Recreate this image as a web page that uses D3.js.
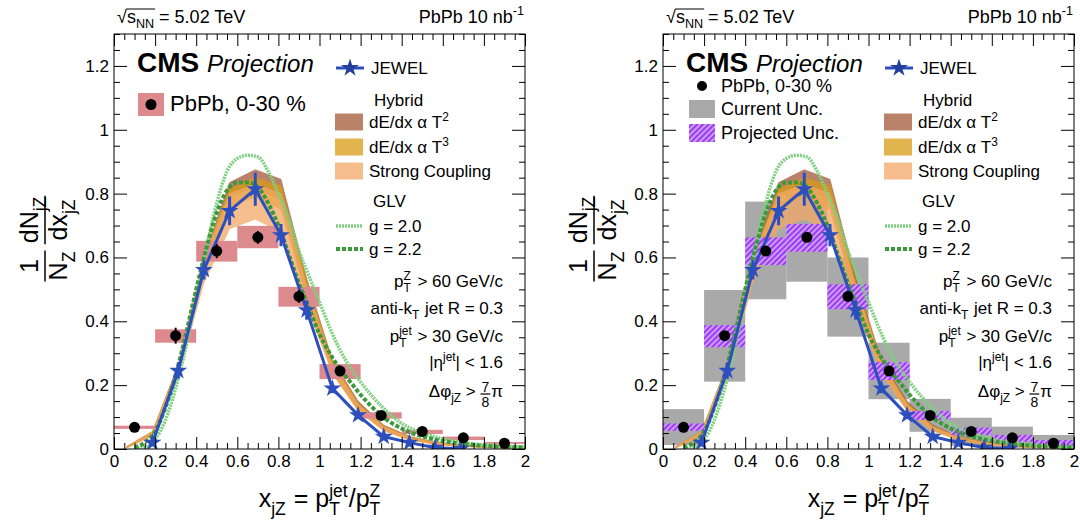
<!DOCTYPE html>
<html><head><meta charset="utf-8">
<script src="https://cdn.jsdelivr.net/npm/d3@7"></script>
<style>
body{margin:0;background:#fff}
svg{display:block;font-family:"Liberation Sans",Arial,Helvetica,sans-serif}
text{white-space:pre}
</style>
</head><body><svg id="c" width="1080" height="526"></svg>
<script>
// ---------------- data ----------------
const binEdges = [0,0.2,0.4,0.6,0.8,1.0,1.2,1.4,1.6,1.8,2.0];
const dataX = [0.1,0.3,0.5,0.7,0.9,1.1,1.3,1.5,1.7,1.9];
const dataY = [0.068,0.355,0.62,0.663,0.478,0.244,0.105,0.055,0.035,0.018];
const dataStat = [0.008,0.025,0.022,0.02,0.02,0.014,0.008,0.005,0.004,0.003];
const sysLo = [0.063,0.333,0.587,0.629,0.446,0.219,0.095,0.047,0.028,0.016];
const sysHi = [0.073,0.375,0.652,0.699,0.508,0.266,0.115,0.060,0.039,0.022];
const curLo = [0.0125,0.211,0.469,0.524,0.352,0.156,0.054,0.010,0.004,0.002];
const curHi = [0.125,0.498,0.775,0.801,0.600,0.333,0.157,0.098,0.070,0.044];
const projLo = [0.057,0.319,0.576,0.618,0.438,0.216,0.091,0.044,0.023,0.009];
const projHi = [0.080,0.388,0.663,0.705,0.516,0.272,0.119,0.067,0.044,0.028];

const jewelX = [0.1875,0.3125,0.4375,0.5625,0.6875,0.8125,0.9375,1.0625,1.1875,1.3125,1.4375,1.5625,1.6875];
const jewelY = [0.02,0.245,0.561,0.746,0.814,0.67,0.435,0.19,0.106,0.039,0.02,0.004,0.001];
const jewelErr = [0.005,0.025,0.03,0.045,0.052,0.035,0.03,0.015,0.012,0.008,0.006,0.003,0.002];

const bandX = [0.0625,0.1875,0.3125,0.4375,0.5625,0.6875,0.8125,0.9375,1.0625,1.1875,1.3125,1.4375,1.5625,1.6875,1.8125,1.9375];
const t2Lo = [0.004,0.045,0.24,0.56,0.79,0.82,0.78,0.48,0.245,0.125,0.06,0.03,0.016,0.009,0.005,0.003];
const t2Hi = [0.008,0.055,0.265,0.60,0.835,0.875,0.845,0.535,0.28,0.15,0.075,0.04,0.022,0.013,0.008,0.005];
const t3Lo = [0.004,0.045,0.24,0.55,0.76,0.79,0.75,0.47,0.24,0.12,0.058,0.029,0.015,0.008,0.005,0.003];
const t3Hi = [0.008,0.055,0.26,0.60,0.815,0.85,0.825,0.525,0.275,0.145,0.072,0.038,0.021,0.012,0.007,0.004];
const scLo = [0.003,0.04,0.23,0.52,0.69,0.72,0.68,0.45,0.235,0.12,0.056,0.028,0.014,0.008,0.004,0.002];
const scHi = [0.008,0.055,0.26,0.60,0.80,0.83,0.80,0.51,0.27,0.14,0.07,0.036,0.02,0.011,0.007,0.004];

const glvX = [0.1,0.15,0.2,0.25,0.3,0.35,0.4,0.45,0.5,0.55,0.6,0.65,0.7,0.75,0.8,0.85,0.9,0.95,1.0,1.05,1.1,1.15,1.2,1.25,1.3,1.35,1.4,1.45,1.5,1.6,1.7,1.8,1.9,2.0];
const glv22 = [0.005,0.02,0.055,0.13,0.23,0.36,0.5,0.63,0.74,0.81,0.835,0.835,0.82,0.77,0.7,0.61,0.52,0.44,0.36,0.3,0.25,0.21,0.17,0.135,0.105,0.082,0.064,0.05,0.04,0.025,0.016,0.01,0.007,0.005];
const glv20 = [0.0,0.005,0.03,0.09,0.19,0.32,0.47,0.63,0.77,0.87,0.91,0.92,0.915,0.87,0.8,0.72,0.62,0.54,0.46,0.38,0.31,0.255,0.21,0.17,0.135,0.105,0.08,0.063,0.05,0.032,0.02,0.013,0.009,0.006];

const xTicks = [0,0.2,0.4,0.6,0.8,1.0,1.2,1.4,1.6,1.8,2.0];
const yTicks = [0,0.2,0.4,0.6,0.8,1.0,1.2];
const xMinor = d3.range(0,2.0001,0.05).filter(v => Math.abs(v/0.2 - Math.round(v/0.2)) > 1e-6);
const yMinor = d3.range(0,1.3001,0.05).filter(v => Math.abs(v/0.2 - Math.round(v/0.2)) > 1e-6);

// ---------------- styles ----------------
const C = {
  pink:"#dc8a8e", grey:"#a9a9a9", jewel:"#2d4fbe",
  t2:"rgb(161,88,55)", t3:"rgb(215,155,21)", sc:"rgb(241,168,101)", bandOp:0.75,
  g20:"#7fd07f", g22:"#3a9a3a"
};

const svg = d3.select('#c');
svg.append('rect').attr('width',1080).attr('height',526).attr('fill','#fff');
const defs = svg.append('defs');
const pat = defs.append('pattern').attr('id','hatch').attr('patternUnits','userSpaceOnUse')
  .attr('width',4).attr('height',4).attr('patternTransform','rotate(45)');
pat.append('rect').attr('width',4).attr('height',4).attr('fill','#cda2f6');
pat.append('line').attr('x1',1).attr('x2',1).attr('y1',0).attr('y2',4).attr('stroke','#9d3cf0').attr('stroke-width',2.2);

// rich text helper
function rich(parent, x, y, segs, opt={}) {
  const fs = opt.fs || 17, anchor = opt.anchor || 'start';
  const g = parent.append('g');
  let cx = 0;
  const marks = {};
  segs.forEach(s => {
    if (typeof s === 'string') s = {t:s};
    if (s.frac) {
      const f = s.fs || fs*0.82;
      const a = g.append('text').attr('font-size',f).attr('y',-5).text(s.frac[0]);
      const b = g.append('text').attr('font-size',f).attr('y',10).text(s.frac[1]);
      const w = Math.max(a.node().getComputedTextLength(), b.node().getComputedTextLength());
      a.attr('x',cx+1+w/2).attr('text-anchor','middle');
      b.attr('x',cx+1+w/2).attr('text-anchor','middle');
      g.append('line').attr('x1',cx).attr('x2',cx+w+2).attr('y1',-3).attr('y2',-3).attr('stroke','#000').attr('stroke-width',1.2);
      cx += w+3;
    } else if (s.sub !== undefined || s.sup !== undefined) {
      let w = 0;
      if (s.sub !== undefined) {
        const t = g.append('text').attr('x',cx).attr('y',fs*0.3).attr('font-size',fs*0.7).text(s.sub);
        w = Math.max(w, t.node().getComputedTextLength());
      }
      if (s.sup !== undefined) {
        const t = g.append('text').attr('x',cx).attr('y',-fs*0.42).attr('font-size',fs*0.7).text(s.sup);
        w = Math.max(w, t.node().getComputedTextLength());
      }
      cx += w + (s.gap||0);
    } else {
      const t = g.append('text').attr('x',cx).attr('y',0).attr('font-size',s.fs||fs)
        .attr('font-style',s.italic?'italic':null).attr('font-weight',s.bold?'bold':null).text(s.t);
      if (s.mark) marks[s.mark+'0'] = cx;
      cx += t.node().getComputedTextLength();
      if (s.mark) marks[s.mark+'1'] = cx;
    }
    if (s.markEnd) marks[s.markEnd] = cx;
  });
  const shift = anchor==='end' ? -cx : anchor==='middle' ? -cx/2 : 0;
  g.attr('transform',`translate(${x+shift},${y})`);
  return {g, width:cx, marks};
}

function panel(ox, right) {
  const X0 = 114+ox, X1 = 525+ox, Y0 = 34, Y1 = 449;
  const x = d3.scaleLinear().domain([0,2]).range([X0,X1]);
  const y = d3.scaleLinear().domain([0,1.3]).range([Y1,Y0]);
  const id = 'clip'+(right?'R':'L');
  defs.append('clipPath').attr('id',id).append('rect').attr('x',X0).attr('y',Y0).attr('width',X1-X0).attr('height',Y1-Y0);
  const root = svg.append('g');
  const pg = root.append('g').attr('clip-path',`url(#${id})`);
  const bins = d3.range(dataX.length);

  if (right) {
    pg.append('g').selectAll('rect').data(bins).join('rect')
      .attr('x',i=>x(binEdges[i])).attr('width',i=>x(binEdges[i+1])-x(binEdges[i]))
      .attr('y',i=>y(curHi[i])).attr('height',i=>y(curLo[i])-y(curHi[i]))
      .attr('fill',C.grey);
  }
  // hybrid bands
  const bands = [[t2Lo,t2Hi,C.t2],[t3Lo,t3Hi,C.t3],[scLo,scHi,C.sc]];
  const area = d3.area().x(d=>x(d[0])).y0(d=>y(d[1])).y1(d=>y(d[2]));
  bands.forEach(([lo,hi,col]) => {
    pg.append('path').datum(bandX.map((v,i)=>[v,lo[i],hi[i]])).attr('d',area)
      .attr('fill',col).attr('fill-opacity',C.bandOp).attr('stroke',col).attr('stroke-opacity',0.6).attr('stroke-width',0.8);
  });
  if (right) {
    pg.append('g').selectAll('rect').data(bins).join('rect')
      .attr('x',i=>x(binEdges[i])).attr('width',i=>x(binEdges[i+1])-x(binEdges[i]))
      .attr('y',i=>y(projHi[i])).attr('height',i=>y(projLo[i])-y(projHi[i]))
      .attr('fill','url(#hatch)');
  } else {
    pg.append('g').selectAll('rect').data(bins).join('rect')
      .attr('x',i=>x(binEdges[i])).attr('width',i=>x(binEdges[i+1])-x(binEdges[i]))
      .attr('y',i=>y(sysHi[i])).attr('height',i=>y(sysLo[i])-y(sysHi[i]))
      .attr('fill',C.pink);
  }
  // GLV
  const line = d3.line().x(d=>x(d[0])).y(d=>y(d[1])).curve(d3.curveMonotoneX);
  pg.append('path').datum(glvX.map((v,i)=>[v,glv20[i]])).attr('d',line)
    .attr('fill','none').attr('stroke',C.g20).attr('stroke-width',3.5).attr('stroke-dasharray','2,1');
  pg.append('path').datum(glvX.map((v,i)=>[v,glv22[i]])).attr('d',line)
    .attr('fill','none').attr('stroke',C.g22).attr('stroke-width',4).attr('stroke-dasharray','4,2');
  // JEWEL
  const lin = d3.line().x(d=>x(d[0])).y(d=>y(d[1]));
  pg.append('path').datum(jewelX.map((v,i)=>[v,jewelY[i]])).attr('d',lin)
    .attr('fill','none').attr('stroke',C.jewel).attr('stroke-width',3);
  pg.append('g').selectAll('line').data(jewelX.map((v,i)=>i)).join('line')
    .attr('x1',i=>x(jewelX[i])).attr('x2',i=>x(jewelX[i]))
    .attr('y1',i=>y(jewelY[i]-jewelErr[i])).attr('y2',i=>y(jewelY[i]+jewelErr[i]))
    .attr('stroke',C.jewel).attr('stroke-width',3);
  const star = d3.symbol(d3.symbolStar, 100);
  pg.append('g').selectAll('path').data(jewelX.map((v,i)=>i)).join('path')
    .attr('d',star).attr('transform',i=>`translate(${x(jewelX[i])},${y(jewelY[i])})`)
    .attr('fill',C.jewel);
  // data
  if (!right) {
    pg.append('g').selectAll('line').data(bins).join('line')
      .attr('x1',i=>x(dataX[i])).attr('x2',i=>x(dataX[i]))
      .attr('y1',i=>y(dataY[i]-dataStat[i])).attr('y2',i=>y(dataY[i]+dataStat[i]))
      .attr('stroke','#000').attr('stroke-width',2);
  }
  pg.append('g').selectAll('circle').data(bins).join('circle')
    .attr('cx',i=>x(dataX[i])).attr('cy',i=>y(dataY[i])).attr('r',5.5).attr('fill','#000');

  // axes
  const fmt = d => String(Math.round(d*10)/10);
  const ax = root.append('g');
  const addAxis = (gen, tr) => {
    const a = ax.append('g').attr('transform',tr).call(gen);
    a.select('.domain').remove();
    a.selectAll('line').attr('stroke','#000').attr('stroke-width',1);
    a.selectAll('text').attr('font-size',17).attr('fill','#000').attr('font-family',null);
    a.attr('font-family',null);
    return a;
  };
  addAxis(d3.axisBottom(x).tickValues(xTicks).tickSize(-12).tickPadding(6).tickFormat(fmt), `translate(0,${Y1})`);
  addAxis(d3.axisBottom(x).tickValues(xMinor).tickSize(-6).tickFormat(''), `translate(0,${Y1})`);
  addAxis(d3.axisTop(x).tickValues(xTicks).tickSize(-12).tickFormat(''), `translate(0,${Y0})`);
  addAxis(d3.axisTop(x).tickValues(xMinor).tickSize(-6).tickFormat(''), `translate(0,${Y0})`);
  addAxis(d3.axisLeft(y).tickValues(yTicks).tickSize(-13).tickPadding(5).tickFormat(fmt), `translate(${X0},0)`);
  addAxis(d3.axisLeft(y).tickValues(yMinor).tickSize(-6).tickFormat(''), `translate(${X0},0)`);
  addAxis(d3.axisRight(y).tickValues(yTicks).tickSize(-13).tickFormat(''), `translate(${X1},0)`);
  addAxis(d3.axisRight(y).tickValues(yMinor).tickSize(-6).tickFormat(''), `translate(${X1},0)`);
  root.append('rect').attr('x',X0).attr('y',Y0).attr('width',X1-X0).attr('height',Y1-Y0)
    .attr('fill','none').attr('stroke','#000').attr('stroke-width',1);

  const t = root.append('g');
  // header
  const h = rich(t, X0+3, 23, [{t:'√'},{t:'s',mark:'s'},{sub:'NN',markEnd:'nn'},{t:' = 5.02 TeV'}], {fs:18});
  h.g.append('line').attr('x1',h.marks.s0-0.5).attr('x2',h.marks.nn+1).attr('y1',-14).attr('y2',-14).attr('stroke','#000').attr('stroke-width',1);
  rich(t, X1-1, 23, [{t:'PbPb 10 nb'},{sup:'-1'}], {fs:18, anchor:'end'});
  // CMS Projection
  rich(t, X0+23, 72, [{t:'CMS',bold:true,fs:28}]);
  rich(t, X0+93, 72, [{t:'Projection',italic:true,fs:24}]);
  // JEWEL legend
  const L = X0+222;
  t.append('line').attr('x1',L).attr('x2',L+28).attr('y1',68).attr('y2',68).attr('stroke',C.jewel).attr('stroke-width',3);
  t.append('path').attr('d',d3.symbol(d3.symbolStar,100)).attr('transform',`translate(${L+14},68)`).attr('fill','#23409f');
  rich(t, L+35, 74, ['JEWEL']);
  rich(t, L+38, 106, ['Hybrid']);
  const sw = [[t2Hi,C.t2,122,[{t:'dE/dx α T'},{sup:'2'}]],[t3Hi,C.t3,147,[{t:'dE/dx α T'},{sup:'3'}]],[scHi,C.sc,171,['Strong Coupling']]];
  sw.forEach(([arr,col,cy,txt]) => {
    t.append('rect').attr('x',L-1).attr('width',28).attr('y',cy-8.5).attr('height',17).attr('fill',col).attr('fill-opacity',C.bandOp);
    rich(t, L+33, cy+6, txt);
  });
  rich(t, L+37, 207, ['GLV']);
  t.append('line').attr('x1',L).attr('x2',L+27).attr('y1',226).attr('y2',226).attr('stroke',C.g20).attr('stroke-width',3.5).attr('stroke-dasharray','2,1');
  rich(t, L+33, 232, ['g = 2.0']);
  t.append('line').attr('x1',L).attr('x2',L+27).attr('y1',249).attr('y2',249).attr('stroke',C.g22).attr('stroke-width',4).attr('stroke-dasharray','4,2');
  rich(t, L+33, 255, ['g = 2.2']);
  // cuts
  const R = X1-22;
  rich(t, R, 287, [{t:'p'},{sub:'T',sup:'Z',gap:2},{t:' > 60 GeV/c'}], {anchor:'end'});
  rich(t, R, 314, [{t:'anti-k'},{sub:'T',gap:1},{t:' jet R = 0.3'}], {anchor:'end'});
  rich(t, R, 342, [{t:'p'},{sub:'T',sup:'jet',gap:1},{t:' > 30 GeV/c'}], {anchor:'end'});
  rich(t, R, 368, [{t:'|η'},{sup:'jet'},{t:'| < 1.6'}], {anchor:'end'});
  rich(t, R, 397, [{t:'Δφ'},{sub:'jZ'},{t:' > '},{frac:['7','8'],fs:14},{t:'π'}], {anchor:'end'});

  // data legend
  if (!right) {
    t.append('rect').attr('x',X0+24).attr('y',93).attr('width',26).attr('height',23).attr('fill',C.pink);
    t.append('circle').attr('cx',X0+37).attr('cy',104.5).attr('r',5.5).attr('fill','#000');
    rich(t, X0+56, 111, ['PbPb, 0-30 %'], {fs:22});
  } else {
    t.append('circle').attr('cx',X0+39).attr('cy',86).attr('r',5).attr('fill','#000');
    rich(t, X0+58, 92, ['PbPb, 0-30 %'], {fs:18});
    t.append('rect').attr('x',X0+26).attr('y',100).attr('width',26).attr('height',18).attr('fill',C.grey);
    rich(t, X0+58, 115, ['Current Unc.'], {fs:18});
    t.append('rect').attr('x',X0+26).attr('y',124).attr('width',26).attr('height',18).attr('fill','url(#hatch)');
    rich(t, X0+58, 139, ['Projected Unc.'], {fs:18});
  }

  // axis titles
  rich(t, (X0+X1)/2, 507, [{t:'x'},{sub:'jZ',gap:1},{t:' = p'},{sub:'T',sup:'jet',gap:1},{t:'/p'},{sub:'T',sup:'Z'}], {fs:25, anchor:'middle'});
  const yt = t.append('g').attr('transform',`translate(${45+ox},240) rotate(-90)`);
  const frac = (cx, num, den) => {
    const n = rich(yt, cx, -7, num, {fs:25, anchor:'middle'});
    const d = rich(yt, cx, 22, den, {fs:25, anchor:'middle'});
    const w = Math.max(n.width, d.width) + 2;
    yt.append('line').attr('x1',cx-w/2).attr('x2',cx+w/2).attr('y1',0).attr('y2',0).attr('stroke','#000').attr('stroke-width',1.5);
  };
  frac(-26, ['1'], [{t:'N'},{sub:'Z'}]);
  frac(20, [{t:'dN'},{sub:'jZ'}], [{t:'dx'},{sub:'jZ'}]);
}

panel(0,false);
panel(549,true);
</script>
</body></html>
